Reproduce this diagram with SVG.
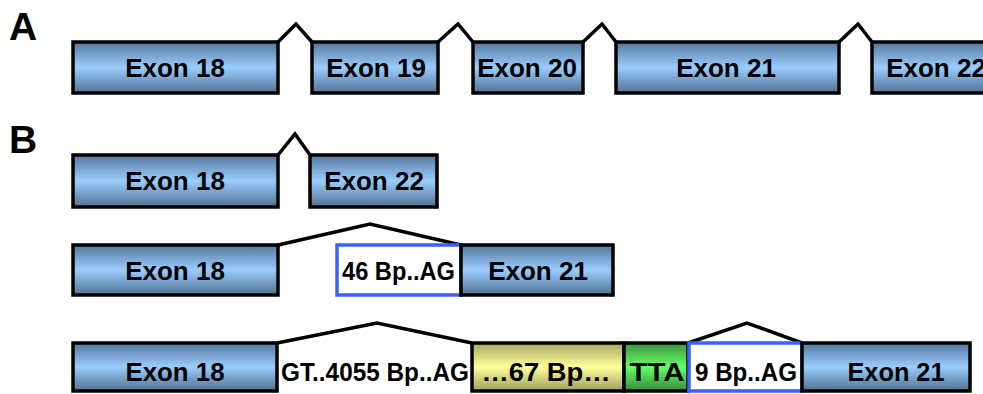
<svg xmlns="http://www.w3.org/2000/svg" width="983" height="394" viewBox="0 0 983 394">
<defs>
<linearGradient id="gBlue" x1="0" y1="0" x2="0" y2="1">
<stop offset="0" stop-color="#56779c"/>
<stop offset="0.5" stop-color="#9acdff"/>
<stop offset="1" stop-color="#51708f"/>
</linearGradient>
<linearGradient id="gYel" x1="0" y1="0" x2="0" y2="1">
<stop offset="0" stop-color="#a9a662"/>
<stop offset="0.5" stop-color="#ffff9c"/>
<stop offset="1" stop-color="#a09d5c"/>
</linearGradient>
<linearGradient id="gGrn" x1="0" y1="0" x2="0" y2="1">
<stop offset="0" stop-color="#3a8f3a"/>
<stop offset="0.5" stop-color="#66ff66"/>
<stop offset="1" stop-color="#378a37"/>
</linearGradient>
</defs>
<style>
.ex{fill:url(#gBlue);stroke:#000;stroke-width:3.5}
.ye{fill:url(#gYel);stroke:#000;stroke-width:3.5}
.gr{fill:url(#gGrn);stroke:#000;stroke-width:3.5}
.bl{fill:#fff;stroke:#3a63f5;stroke-width:3.5}
.t{font-family:"Liberation Sans",Arial,sans-serif;font-weight:bold;font-size:26px;fill:#000;text-anchor:middle}
.t2{font-family:"Liberation Sans",Arial,sans-serif;font-weight:bold;font-size:25px;fill:#000;text-anchor:middle}
.lab{font-family:"Liberation Sans",Arial,sans-serif;font-weight:bold;font-size:39px;fill:#000}
.c{fill:none;stroke:#000;stroke-width:3.5;stroke-linejoin:miter}
</style>
<text class="lab" x="9" y="40">A</text>
<text class="lab" x="9" y="153">B</text>

<g id="connectors">
<polyline class="c" points="278,42 296,24 312,42"/>
<polyline class="c" points="438,42 458,24 473,42"/>
<polyline class="c" points="583,42 602,24 616,42"/>
<polyline class="c" points="839,42 858,24 872,42"/>
<polyline class="c" points="278,155 295,134 310,155"/>
<polyline class="c" points="278,245 370,224 461,245"/>
<polyline class="c" points="277,343 377,323 472,343"/>
<polyline class="c" points="688,343 747,323 802,343"/>
</g>

<g id="rowA">
<g id="a-ex18"><rect class="ex" x="73" y="42" width="205" height="51"/><text class="t" x="175" y="77">Exon 18</text></g>
<g id="a-ex19"><rect class="ex" x="312" y="42" width="126" height="51"/><text class="t" x="376" y="77">Exon 19</text></g>
<g id="a-ex20"><rect class="ex" x="473" y="42" width="110" height="51"/><text class="t" x="527" y="77">Exon 20</text></g>
<g id="a-ex21"><rect class="ex" x="616" y="42" width="223" height="51"/><text class="t" x="726" y="77">Exon 21</text></g>
<g id="a-ex22"><rect class="ex" x="872" y="42" width="130" height="51"/><text class="t" x="936" y="77">Exon 22</text></g>
</g>

<g id="rowB1">
<g id="b1-ex18"><rect class="ex" x="73" y="155" width="205" height="52"/><text class="t" x="175" y="190">Exon 18</text></g>
<g id="b1-ex22"><rect class="ex" x="310" y="155" width="127" height="52"/><text class="t" x="374" y="190">Exon 22</text></g>
</g>

<g id="rowB2">
<g id="b2-ex18"><rect class="ex" x="73" y="245" width="205" height="50"/><text class="t" x="175" y="280">Exon 18</text></g>
<g id="b2-46bp"><rect class="bl" x="337" y="245" width="124" height="50"/><text class="t2" x="398.5" y="280" textLength="113" lengthAdjust="spacingAndGlyphs">46 Bp..AG</text></g>
<g id="b2-ex21"><rect class="ex" x="461" y="245" width="152" height="50"/><text class="t" x="538" y="280">Exon 21</text></g>
</g>

<g id="rowB3">
<g id="b3-ex18"><rect class="ex" x="73" y="343" width="204" height="48"/><text class="t2" x="175" y="381" textLength="99" lengthAdjust="spacingAndGlyphs">Exon 18</text></g>
<g id="b3-intron"><text class="t2" x="375" y="381" textLength="188" lengthAdjust="spacingAndGlyphs">GT..4055 Bp..AG</text></g>
<g id="b3-67bp"><rect class="ye" x="472" y="343" width="152" height="48"/><text class="t2" x="546" y="381" textLength="129" lengthAdjust="spacingAndGlyphs">…67 Bp…</text></g>
<g id="b3-tta"><rect class="gr" x="624" y="343" width="64" height="48"/><text class="t2" x="657" y="381" textLength="55" lengthAdjust="spacingAndGlyphs">TTA</text></g>
<g id="b3-9bp"><rect class="bl" x="689" y="343" width="113" height="48"/><text class="t2" x="746" y="381" textLength="102" lengthAdjust="spacingAndGlyphs">9 Bp..AG</text></g>
<g id="b3-ex21"><rect class="ex" x="802" y="343" width="168" height="48"/><text class="t2" x="896" y="381" textLength="97" lengthAdjust="spacingAndGlyphs">Exon 21</text></g>
</g>
</svg>
